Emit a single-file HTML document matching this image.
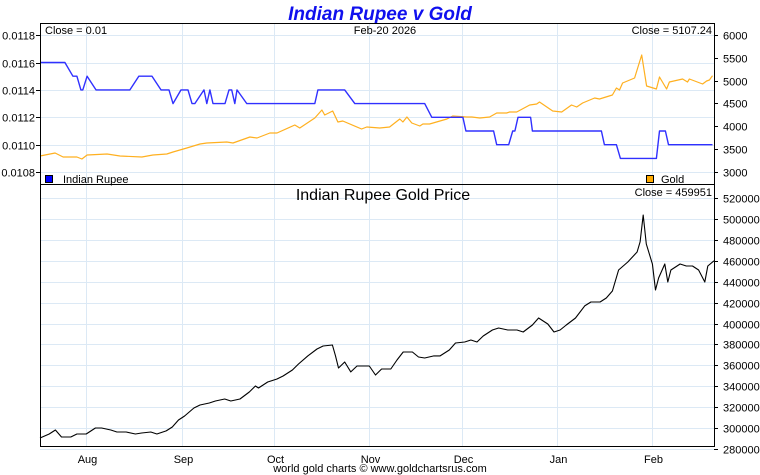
<!DOCTYPE html>
<html><head><meta charset="utf-8"><style>
html,body{margin:0;padding:0;background:#fff;}
svg{display:block;font-family:"Liberation Sans",Arial,sans-serif;}
</style></head><body>
<svg id="chart" width="760" height="475" viewBox="0 0 760 475" xmlns="http://www.w3.org/2000/svg">
<rect x="0" y="0" width="760" height="475" fill="#fff"/>
<text x="380" y="20" text-anchor="middle" font-size="19" font-weight="bold" font-style="italic" fill="#1010ee">Indian Rupee v Gold</text>
<g id="grid"></g>
<g id="marks"></g>
<g id="axes"></g>
<rect x="40.5" y="23.5" width="674" height="423" fill="none" stroke="#000"/>
<line x1="40" y1="184.5" x2="714" y2="184.5" stroke="#000"/>
<text x="45" y="34" font-size="11">Close = 0.01</text>
<text x="385" y="34" font-size="11" text-anchor="middle">Feb-20  2026</text>
<text x="712" y="34" font-size="11" text-anchor="end">Close = 5107.24</text>
<rect x="45.5" y="175.5" width="7" height="7" fill="#0000ff" stroke="#000"/>
<text x="63" y="183" font-size="11">Indian Rupee</text>
<rect x="646.5" y="175.5" width="7" height="7" fill="#ffaa00" stroke="#000"/>
<text x="661" y="183" font-size="11">Gold</text>
<text x="383" y="200" font-size="16" text-anchor="middle">Indian Rupee Gold Price</text>
<text x="712" y="196" font-size="11" text-anchor="end">Close = 459951</text>
<text x="380" y="472" font-size="11" text-anchor="middle">world gold charts © www.goldchartsrus.com</text>
</svg>
<script>
// days since Jul 17 2025
const priceDays=[0,3,5,7,10,12,15,18,20,23,25,28,31,33,36,38,41,43,45,47,50,52,55,57,60,62,65,68,70,71,74,77,79,82,84,87,90,92,95,96,97,99,101,103,105,107,109,111,114,116,118,121,123,125,128,130,133,135,138,140,142,144,147,149,152,155,157,160,162,165,167,169,171,174,177,179,182,184,186,188,191,194,195,196,197,199,200,201,203,204,205,208,210,212,214,216,217,219];
const priceValues=[290.6,294.4,298.2,291.5,291.5,294.4,294.4,300.1,300.1,298.2,296.3,296.3,294.4,295.3,296.3,294.4,297.3,301.1,307.8,311.6,319.2,322.1,324,325.9,327.8,325.9,327.8,334.5,340.3,338.4,344.1,347,349.8,355.6,361.3,369,375.6,378.5,379.5,369,357.5,363.2,353.7,359.4,359.4,359.4,350.8,356.5,356.5,365.1,372.8,372.8,368,367,369,369,374.7,381.4,382.3,384.2,382.3,388.1,393.8,395.7,393.8,393.8,391.9,398.6,405.3,399.5,391.9,393.8,398.6,405.3,416.8,420.6,420.6,424.4,431.1,451.2,458.8,468.4,478,503.7,476,456.9,432,443.5,456.9,439.7,451.2,456.9,455,455,451.2,439.7,455,460];
const goldDays=[0,4.9,7.5,12,13.6,15.3,21.8,26,33.1,36.7,41.2,43.2,47.7,52,54.2,60.7,62.7,68.2,70.5,74.7,77,82.8,84.4,89.3,91.6,92.5,95.1,96.8,98.4,104.5,106.2,110.4,113.6,116.9,117.9,119.2,120.8,123.4,124.4,126.6,132.2,134.1,138.6,140.3,142.9,146.1,148.4,151.6,152.6,154.9,159.1,161.4,162.3,166.6,169.5,172.7,174.4,176.3,180.2,181.8,186,187.3,188.3,189.3,193.2,195.5,197.1,200.3,201.3,203,203.6,204.5,208.8,210.4,211,215.3,216.6,217.5,218.5];
const goldValues=[3346,3412,3325,3325,3281,3368,3390,3346,3325,3368,3390,3434,3522,3610,3632,3653,3632,3763,3741,3851,3851,4026,3961,4180,4355,4246,4333,4092,4114,3939,3982,3961,3982,4158,4092,4202,4070,4004,4048,4048,4158,4224,4202,4202,4180,4202,4289,4289,4311,4311,4465,4487,4531,4333,4311,4465,4421,4509,4618,4596,4684,4838,4794,4947,5057,5561,4882,4816,5079,4882,4816,4969,5035,4969,5035,4925,4991,5013,5107];
const rupeeDays=[0,8.1,10.7,12,13.3,13.9,15.3,18.2,29.2,32.1,36.4,39.3,41.9,43.2,45.8,48.1,49.4,50.3,53.3,54.2,55.2,56.2,60.1,61.4,62.3,63.3,64,67.2,89.3,90.3,99,102.3,125,127.3,137.4,138.4,147.4,148.4,152.3,153.6,154.3,155.3,159.4,160,182.4,183.4,187.3,188.6,200.3,201.3,203.2,204.2,218.5];
const rupeeValues=[.0116,.0116,.0115,.0115,.0114,.0114,.0115,.0114,.0114,.0115,.0115,.0114,.0114,.0113,.0114,.0114,.0113,.0113,.0114,.0113,.0114,.0113,.0113,.0114,.0114,.0113,.0114,.0113,.0113,.0114,.0114,.0113,.0113,.0112,.0112,.0111,.0111,.0110,.0110,.0111,.0111,.0112,.0112,.0111,.0111,.0110,.0110,.0109,.0109,.0111,.0111,.0110,.0110];
const monthLabels=["Aug","Sep","Oct","Nov","Dec","Jan","Feb"];
const monthDays=[15,46,76,107,137,168,199];
const rupeeTicks=[0.0118,0.0116,0.0114,0.0112,0.0110,0.0108];
const goldTicks=[6000,5500,5000,4500,4000,3500,3000];
const priceTicks=[520,500,480,460,440,420,400,380,360,340,320,300,280];

const NS="http://www.w3.org/2000/svg";
const xS=d=>40+d*(674/219);
const yR=v=>62.5+(0.0116-v)/0.0002*27.4;
const yG=v=>35+(6000-v)/500*22.8;
const yP=v=>198+(520-v)/20*20.92;
function mk(tag,attrs,parent){const e=document.createElementNS(NS,tag);for(const k in attrs)e.setAttribute(k,attrs[k]);parent.appendChild(e);return e;}
const grid=document.getElementById('grid'),marks=document.getElementById('marks'),axes=document.getElementById('axes');
const gc="#dce9f5";
monthDays.forEach((d,i)=>{
  const x=Math.round(xS(d))+0.5;
  let l=mk('line',{x1:x,y1:24,x2:x,y2:446,stroke:gc},grid);
  
  
  let t=mk('text',{x:x+1,y:463,'font-size':11,'text-anchor':'middle'},axes);
  t.textContent=monthLabels[i];
  
  
});
rupeeTicks.forEach(v=>{
  const y=Math.round(yR(v))+0.5;
  let l=mk('line',{x1:40,y1:y,x2:714,y2:y,stroke:gc},grid);
  
  
  mk('line',{x1:36,y1:y,x2:40,y2:y,stroke:'#000'},axes);
  let t=mk('text',{x:35,y:y+4,'font-size':11,'text-anchor':'end'},axes);
  t.textContent=v.toFixed(4);
  
  
});
goldTicks.forEach(v=>{
  const y=Math.round(yG(v))+0.5;
  mk('line',{x1:714,y1:y,x2:718,y2:y,stroke:'#000'},axes);
  let t=mk('text',{x:723,y:y+4,'font-size':11},axes);
  t.textContent=v;
  
  
});
priceTicks.forEach(v=>{
  const y=Math.round(yP(v))+0.5;
  let l=mk('line',{x1:40,y1:y,x2:714,y2:y,stroke:gc},grid);
  
  
  mk('line',{x1:714,y1:y,x2:718,y2:y,stroke:'#000'},axes);
  let t=mk('text',{x:723,y:y+4,'font-size':11},axes);
  t.textContent=(v*1000);
  
  
});
function line(days,vals,ys,color,w,name){
  const pts=days.map((d,i)=>xS(d).toFixed(1)+','+ys(vals[i]).toFixed(1)).join(' ');
  const p=mk('polyline',{points:pts,fill:'none',stroke:color,'stroke-width':w,'stroke-linejoin':'round'},marks);
  
  
}
line(goldDays,goldValues,yG,'#ffb020',1.2,'gold-line');
line(rupeeDays,rupeeValues,yR,'#3030ff',1.4,'rupee-line');
line(priceDays,priceValues,yP,'#000',1.1,'rupee-gold-price-line');
</script>
</body></html>
